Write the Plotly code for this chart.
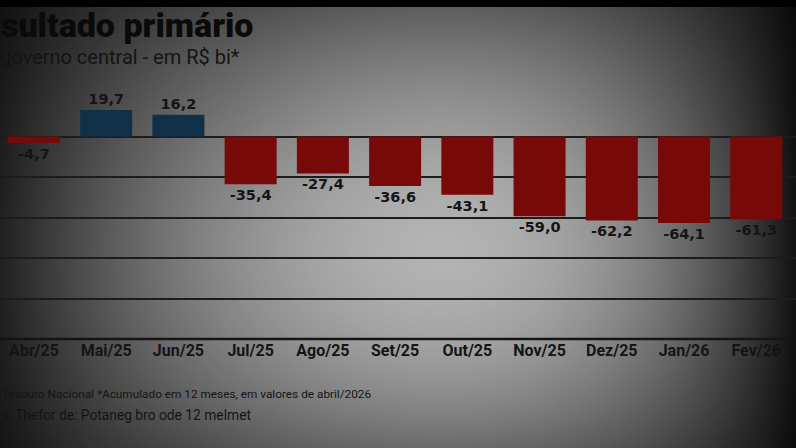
import base64, struct, zlib
import numpy as np
import plotly.graph_objects as go

# ---- data ----
months = ["Abr/25", "Mai/25", "Jun/25", "Jul/25", "Ago/25", "Set/25",
          "Out/25", "Nov/25", "Dez/25", "Jan/26", "Fev/26"]
values = [-4.7, 19.7, 16.2, -35.4, -27.4, -36.6, -43.1, -59.0, -62.2, -64.1, -61.3]
y_ticks = [30, 0, -30, -60, -90, -120, -150]

title_text = "sultado primário"
subtitle_text = "governo central - em R$ bi*"
footer1 = "Tesouro Nacional *Acumulado em 12 meses, em valores de abril/2026"
footer2 = "s, Thefor de: Potaneg bro ode 12 melmet"

W, H = 796, 448
T, B = 96, 339  # plot area top / bottom in pixels


def py(p):
    """pixel y -> paper y"""
    return (B - p) / (B - T)


def px(p):
    return p / W


# ---- vignette overlay (styling only) ----
def make_png(w, h, rgba):
    raw = b"".join(b"\x00" + rgba[r].tobytes() for r in range(h))
    def chunk(t, d):
        c = struct.pack(">I", len(d)) + t + d
        return c + struct.pack(">I", zlib.crc32(t + d) & 0xffffffff)
    png = b"\x89PNG\r\n\x1a\n" + chunk(b"IHDR", struct.pack(">IIBBBBB", w, h, 8, 6, 0, 0, 0))
    png += chunk(b"IDAT", zlib.compress(raw, 9)) + chunk(b"IEND", b"")
    return "data:image/png;base64," + base64.b64encode(png).decode()

gw, gh = 200, 112
gx, gy = np.meshgrid(np.linspace(0, W, gw), np.linspace(0, H, gh))
cx, cy = 440.0, 250.0
dx = np.where(gx < cx, (cx - gx) / cx, (gx - cx) / (W - cx))
dy = np.where(gy < cy, (cy - gy) / cy, (gy - cy) / (H - cy))
ah = np.where(gx < cx, 0.82 * dx ** 1.8, 0.9 * dx ** 2.1)
av = np.where(gy < cy, 0.5 * dy ** 1.8, 0.4 * dy ** 2)
bright = (1 - ah) * (1 - av)
alpha = np.clip(1 - bright, 0, 0.95)
img = np.zeros((gh, gw, 4), dtype=np.uint8)
img[..., 3] = (alpha * 255).astype(np.uint8)
vignette = make_png(gw, gh, img)

# ---- figure ----
colors = ["#103048" if v > 0 else "#780909" for v in values]
labels = [f"{v:.1f}".replace(".", ",") for v in values]

fig = go.Figure(go.Bar(
    x=list(range(len(months))), y=values,
    marker=dict(color=colors, line=dict(width=0)),
    width=0.72,
    text=labels, textposition="outside", textangle=0,
    textfont=dict(family="DejaVu Sans", size=14.5, color="#141414", weight="bold"),
    cliponaxis=False,
))

fig.update_layout(
    width=W, height=H,
    margin=dict(l=0, r=0, t=T, b=H - B),
    paper_bgcolor="#b2b2b2", plot_bgcolor="rgba(0,0,0,0)",
    showlegend=False,
    bargap=0.28,
    xaxis=dict(range=[-0.47, 10.55], tickmode="array",
               tickvals=list(range(len(months))), ticktext=months,
               showgrid=False, zeroline=False, showline=False, ticks="",
               tickfont=dict(family="Liberation Sans Narrow, Roboto", size=16,
                             color="#141414", weight="bold")),
    yaxis=dict(range=[-150, 30], tickmode="array", tickvals=y_ticks,
               showticklabels=False, showgrid=True, gridcolor="#1c1c1c",
               gridwidth=1.5, zeroline=True, zerolinecolor="#1c1c1c",
               zerolinewidth=1.5, showline=False),
    font=dict(family="Roboto"),
)

fig.add_shape(type="line", xref="paper", yref="paper", x0=0, x1=1, y0=0, y1=0,
              line=dict(color="#141414", width=2.5), layer="above")
fig.add_shape(type="rect", xref="paper", yref="paper", x0=0, x1=1,
              y0=py(7), y1=py(0), fillcolor="#000000", line=dict(width=0),
              layer="above")

fig.add_annotation(text=title_text, xref="paper", yref="paper",
                   x=px(-1), y=py(25), xanchor="left", yanchor="middle",
                   showarrow=False,
                   font=dict(family="Roboto", size=34, color="#0a0a0a", weight=900))
fig.add_annotation(text=subtitle_text, xref="paper", yref="paper",
                   x=px(-2), y=py(57), xanchor="left", yanchor="middle",
                   showarrow=False,
                   font=dict(family="Roboto", size=20, color="#141414"))
fig.add_annotation(text=footer1, xref="paper", yref="paper",
                   x=px(0), y=py(394), xanchor="left", yanchor="middle",
                   showarrow=False,
                   font=dict(family="Liberation Sans Narrow, Roboto", size=11.8,
                             color="#141414"))
fig.add_annotation(text=footer2, xref="paper", yref="paper",
                   x=px(0), y=py(415), xanchor="left", yanchor="middle",
                   showarrow=False,
                   font=dict(family="Liberation Sans Narrow, Roboto", size=13.8,
                             color="#141414"))

fig.add_layout_image(source=vignette, xref="paper", yref="paper",
                     x=0, y=py(0), sizex=1, sizey=H / (B - T),
                     xanchor="left", yanchor="top", sizing="stretch",
                     layer="below", opacity=1)

fig.write_html("out.html")
